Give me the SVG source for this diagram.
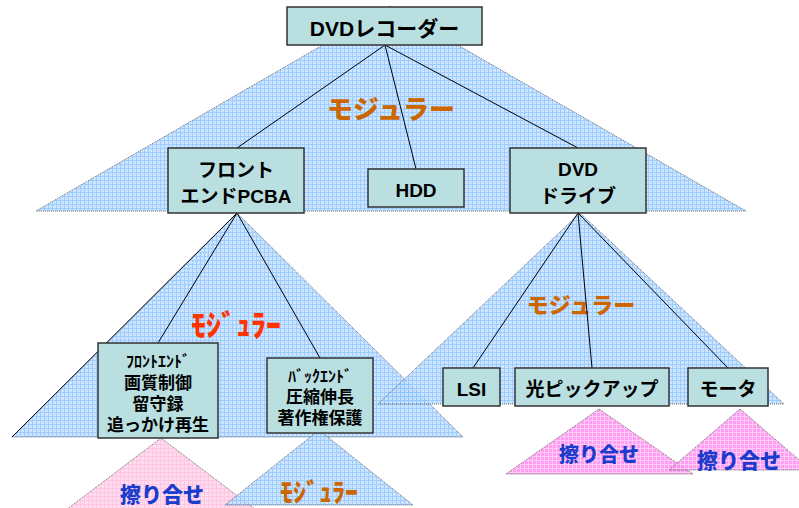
<svg xmlns="http://www.w3.org/2000/svg" width="799" height="508" viewBox="0 0 799 508">
<defs>
<pattern id="pb" width="4" height="4" patternUnits="userSpaceOnUse"><rect width="4" height="4" fill="#c4e0ff"/><path d="M0 0.5H4M0.5 0V4" stroke="#8cc4ff" stroke-width="1"/></pattern>
<pattern id="pp" width="4" height="4" patternUnits="userSpaceOnUse"><rect width="4" height="4" fill="#ffd6ec"/><path d="M0 0.5H4M0.5 0V4" stroke="#ffbcdd" stroke-width="1"/></pattern>
<pattern id="pm" width="4" height="4" patternUnits="userSpaceOnUse"><rect width="4" height="4" fill="#ff8cf0"/><path d="M0 0.5H4M0.5 0V4" stroke="#ffc4f8" stroke-width="1"/></pattern>
</defs>
<style>
.tri{stroke:#555;stroke-width:1;stroke-dasharray:1 1;opacity:0.85}
.b{fill:url(#pb)}
.p{fill:url(#pp)}
.m{fill:url(#pm)}
.box{fill:#b9dfe0;stroke:#333;stroke-width:1.5}
.t{font-family:"Liberation Sans","Noto Sans CJK JP",sans-serif;font-weight:bold;fill:#000;text-anchor:middle}
.lbl{font-family:"Noto Sans CJK JP",sans-serif;font-weight:900;text-anchor:middle}
.or{fill:#cc6600}
.rd{fill:#ff3300}
.bl{fill:#1a3ccc}
.c{stroke:#000;stroke-width:1;fill:none}
</style>
<g id="regions">
<polygon class="tri b" points="390,6 36,211 746,211"/>
<polygon class="tri b" points="237,213 12,437 463,437"/>
<polygon class="tri b" points="580,213 378,404 784,404"/>
<polygon class="tri p" points="161,438 66,510 256,510"/>
<polygon class="tri b" points="319,430 225,505 413,505"/>
<polygon class="tri m" points="599,409 506,474 693,474"/>
<polygon class="tri m" points="740,409 669,470 811,470"/>
<text class="lbl or" x="391" y="119" font-size="26">モジュラー</text>
<text class="lbl or" x="581" y="313" font-size="22">モジュラー</text>
<text class="lbl rd" x="236" y="336" font-size="30">ﾓｼﾞｭﾗｰ</text>
<text class="lbl or" x="319" y="502" font-size="26">ﾓｼﾞｭﾗｰ</text>
<text class="lbl bl" x="162" y="502" font-size="21">擦り合せ</text>
<text class="lbl bl" x="599" y="462" font-size="20">擦り合せ</text>
<text class="lbl bl" x="739" y="468" font-size="21">擦り合せ</text>
</g>
<g id="connectors">
<line class="c" x1="385" y1="45" x2="237" y2="148"/>
<line class="c" x1="385" y1="45" x2="416" y2="169"/>
<line class="c" x1="385" y1="45" x2="578" y2="148"/>
<line class="c" x1="237" y1="213" x2="158" y2="343"/>
<line class="c" x1="237" y1="213" x2="320" y2="358"/>
<line class="c" x1="237" y1="213" x2="12" y2="437"/>
<line class="c" x1="578" y1="213" x2="473" y2="368"/>
<line class="c" x1="578" y1="213" x2="592" y2="368"/>
<line class="c" x1="578" y1="213" x2="728" y2="368"/>
</g>
<g id="dvd-recorder"><rect class="box" x="287" y="7" width="195" height="38"/><text class="t" x="384.5" y="36" font-size="21">DVDレコーダー</text></g>
<g id="frontend-pcba"><rect class="box" x="168" y="148" width="136" height="65"/><text class="t" x="236" y="177" font-size="19">フロント</text><text class="t" x="236" y="203" font-size="19">エンドPCBA</text></g>
<g id="hdd"><rect class="box" x="368" y="169" width="96" height="38"/><text class="t" x="416" y="197" font-size="19">HDD</text></g>
<g id="dvd-drive"><rect class="box" x="510" y="148" width="136" height="65"/><text class="t" x="578" y="176" font-size="19">DVD</text><text class="t" x="578" y="203" font-size="19">ドライブ</text></g>
<g id="frontend"><rect class="box" x="98" y="343" width="120" height="95"/><text class="t" x="158" y="367" font-size="16">ﾌﾛﾝﾄｴﾝﾄﾞ</text><text class="t" x="158" y="389" font-size="17">画質制御</text><text class="t" x="158" y="410" font-size="17">留守録</text><text class="t" x="158" y="431" font-size="17">追っかけ再生</text></g>
<g id="backend"><rect class="box" x="267" y="358" width="106" height="75"/><text class="t" x="320" y="382" font-size="16">ﾊﾞｯｸｴﾝﾄﾞ</text><text class="t" x="320" y="403" font-size="17">圧縮伸長</text><text class="t" x="320" y="424" font-size="17">著作権保護</text></g>
<g id="lsi"><rect class="box" x="443" y="368" width="57" height="38"/><text class="t" x="471.5" y="396" font-size="19">LSI</text></g>
<g id="pickup"><rect class="box" x="515" y="368" width="154" height="38"/><text class="t" x="592" y="396" font-size="19">光ピックアップ</text></g>
<g id="motor"><rect class="box" x="688" y="368" width="80" height="38"/><text class="t" x="728" y="396" font-size="19">モータ</text></g>
</svg>
